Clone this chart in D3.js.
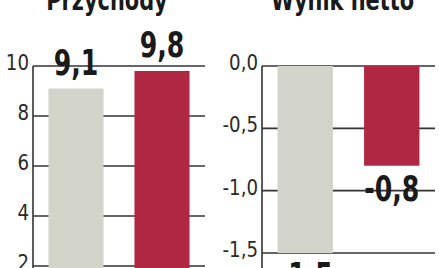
<!DOCTYPE html>
<html>
<head>
<meta charset="utf-8">
<script src="https://cdn.jsdelivr.net/npm/d3@7"></script>
<style>
  html, body { margin: 0; padding: 0; background: #fff; }
  svg { display: block; }
  .tick-label { font-family: "Liberation Sans Narrow", "DejaVu Sans Condensed", sans-serif; font-size: 22px; fill: #2a2a2a; }
  .value-label { font-family: "Liberation Sans Narrow", "DejaVu Sans Condensed", sans-serif; font-weight: bold; font-size: 35px; fill: #1a1a1a; }
  .title { font-family: "Liberation Sans Narrow", "DejaVu Sans Condensed", sans-serif; font-weight: bold; font-size: 29px; fill: #1a1a1a; }
</style>
</head>
<body>
<div id="chart"></div>
<script>
var width = 439,
    height = 268;

// data
var titles = ["Przychody", "Wynik netto"];
var periods = ["prev", "curr"];
var revenue = [9.1, 9.8];
var netResult = [-1.5, -0.8];
var revenueTicks = [2, 4, 6, 8, 10];
var netTicks = [0, -0.5, -1.0, -1.5];

var barColors = ["#d3d4c9", "#b02743"];

var locale = d3.formatLocale({decimal: ",", thousands: " ", grouping: [3], currency: ["", ""], minus: "-"});
var fmt1 = locale.format(".1f"),
    fmt0 = locale.format("d");

var svg = d3.select("#chart").append("svg")
    .attr("width", width)
    .attr("height", height);

// squeeze the condensed font a bit more so it looks like the narrow newspaper type
var squeeze = function(x, y, sx) {
    return "translate(" + x + "," + y + ") scale(" + sx + ",1)";
};

var drawPanel = function(opts) {
    var g = svg.append("g");

    var x = d3.scaleBand()
        .domain(periods)
        .range([opts.x0, opts.x1])
        .paddingInner(0.36)
        .paddingOuter(0.18);

    var y = d3.scaleLinear()
        .domain(opts.domain)
        .range(opts.range);

    // gridlines
    g.selectAll("line.grid").data(opts.ticks).enter().append("line")
        .attr("class", "grid")
        .attr("x1", opts.x0)
        .attr("x2", opts.x1)
        .attr("y1", function(d) { return y(d); })
        .attr("y2", function(d) { return y(d); })
        .attr("stroke", "#333")
        .attr("stroke-width", 1.6);

    // tick labels
    g.selectAll("text.tick-label").data(opts.ticks).enter().append("text")
        .attr("class", "tick-label")
        .attr("transform", function(d) { return squeeze(opts.x0 - 4, y(d) + 4, 0.92); })
        .attr("text-anchor", "end")
        .text(function(d) { return opts.fmt(d); });

    // bars
    g.selectAll("rect").data(opts.values).enter().append("rect")
        .attr("x", function(d, i) { return x(periods[i]); })
        .attr("width", x.bandwidth())
        .attr("y", function(d) { return Math.min(y(0), y(d)); })
        .attr("height", function(d) { return Math.abs(y(d) - y(0)); })
        .attr("fill", function(d, i) { return barColors[i]; });

    // axis line
    g.append("line")
        .attr("x1", opts.x0).attr("x2", opts.x0)
        .attr("y1", y(opts.domain[1])).attr("y2", height)
        .attr("stroke", "#333")
        .attr("stroke-width", 1.6);

    // value labels
    g.selectAll("text.value-label").data(opts.values).enter().append("text")
        .attr("class", "value-label")
        .attr("transform", function(d, i) {
            var cx = x(periods[i]) + x.bandwidth() / 2;
            var ty = d >= 0 ? y(d) - 14 : y(d) + 35;
            return squeeze(cx, ty, 0.8);
        })
        .attr("text-anchor", "middle")
        .text(function(d) { return fmt1(d); });

    // title
    g.append("text")
        .attr("class", "title")
        .attr("transform", squeeze((opts.x0 + opts.x1) / 2 + opts.titleShift, 10, 0.8))
        .attr("text-anchor", "middle")
        .text(opts.title);
};

drawPanel({
    title: titles[0],
    values: revenue,
    ticks: revenueTicks,
    domain: [0, 10],
    range: [316, 66],
    x0: 33,
    x1: 205,
    fmt: fmt0,
    titleShift: -12
});

drawPanel({
    title: titles[1],
    values: netResult,
    ticks: netTicks,
    domain: [-1.5, 0],
    range: [253, 66],
    x0: 262,
    x1: 435,
    fmt: fmt1,
    titleShift: -6
});
</script>
</body>
</html>
